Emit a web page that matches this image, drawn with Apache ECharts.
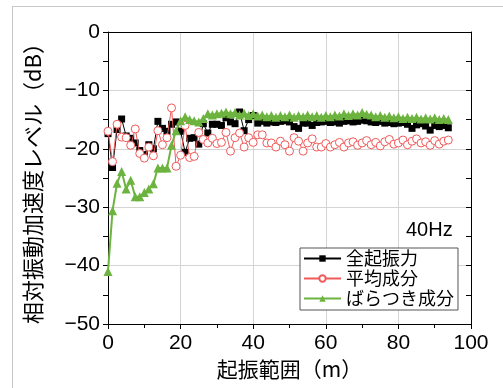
<!DOCTYPE html>
<html><head><meta charset="utf-8">
<script src="https://cdn.jsdelivr.net/npm/echarts@6/dist/echarts.min.js"></script>
<style>html,body{margin:0;padding:0;background:#fff}#c{width:503px;height:388px}</style>
</head><body><div id="c"></div>
<script>
const distances = [0,1.25,2.5,3.75,5,6.25,7.5,8.75,10,11.25,12.5,13.75,15,16.25,17.5,18.75,20,21.25,22.5,23.75,25,26.25,27.5,28.75,30,31.25,32.5,33.75,35,36.25,37.5,38.75,40,41.25,42.5,43.75,45,46.25,47.5,48.75,50,51.25,52.5,53.75,55,56.25,57.5,58.75,60,61.25,62.5,63.75,65,66.25,67.5,68.75,70,71.25,72.5,73.75,75,76.25,77.5,78.75,80,81.25,82.5,83.75,85,86.25,87.5,88.75,90,91.25,92.5,93.75];
const totalLevel = [-17.4,-23.2,-16.7,-14.9,-17.8,-18.2,-19.0,-20.3,-21.0,-19.3,-20.0,-15.3,-16.5,-17.0,-15.8,-15.4,-17.0,-20.6,-18.2,-18.1,-19.2,-15.7,-17.3,-15.8,-15.8,-16.0,-14.7,-15.4,-15.7,-13.7,-16.9,-15.0,-14.3,-15.6,-15.3,-15.6,-15.4,-15.5,-15.3,-15.2,-15.4,-16.2,-16.5,-15.6,-15.6,-16.0,-15.5,-15.4,-15.3,-15.5,-15.4,-15.6,-15.3,-15.2,-15.4,-15.3,-15.1,-15.2,-15.4,-15.5,-15.3,-15.6,-15.5,-15.7,-15.6,-15.5,-15.8,-16.5,-15.9,-15.7,-16.1,-16.8,-16.0,-16.2,-16.0,-16.4];
const meanLevel = [-17.0,-22.2,-15.8,-18.0,-18.1,-19.4,-16.6,-20.8,-21.6,-19.7,-21.2,-16.9,-19.3,-18.1,-13.0,-23.0,-21.1,-16.0,-21.5,-21.3,-17.2,-18.4,-19.0,-18.2,-19.1,-18.9,-17.2,-20.4,-18.1,-17.3,-19.7,-18.1,-18.9,-17.6,-17.6,-19.0,-19.0,-19.7,-18.7,-19.3,-20.4,-18.1,-18.7,-20.4,-19.0,-18.3,-19.7,-19.7,-19.1,-19.7,-19.3,-18.9,-19.7,-19.0,-18.8,-19.4,-19.0,-18.6,-19.3,-18.9,-19.5,-18.8,-18.4,-19.2,-19.0,-18.5,-19.3,-18.7,-18.3,-19.0,-18.8,-19.4,-18.6,-19.2,-18.7,-18.5];
const scatterLevel = [-41.0,-30.6,-25.9,-23.9,-26.9,-25.4,-28.2,-28.2,-27.5,-26.9,-26.0,-23.3,-23.3,-23.3,-19.4,-16.9,-15.2,-14.5,-15.0,-15.2,-15.4,-14.8,-14.0,-14.2,-14.0,-13.9,-13.7,-14.0,-13.8,-14.2,-13.9,-14.3,-14.0,-14.4,-14.2,-14.5,-14.3,-14.6,-14.3,-14.5,-14.2,-14.6,-14.3,-14.5,-14.2,-14.5,-14.3,-14.6,-14.3,-14.5,-14.2,-14.4,-14.0,-14.3,-14.0,-14.2,-13.8,-14.1,-14.2,-14.5,-14.3,-14.6,-14.4,-14.7,-14.5,-14.8,-14.6,-14.8,-14.6,-14.9,-14.7,-14.9,-14.7,-15.0,-14.8,-15.0];
const seriesNames = ['全起振力','平均成分','ばらつき成分'];
const xTitle = '起振範囲（m）';
const yTitle = '相対振動加速度レベル（dB）';
const freqLabel = '40Hz';

const pairs = ys => distances.map((d,i)=>[d, ys[i]]);
const chart = echarts.init(document.getElementById('c'), null, {renderer:'canvas'});
const numFont = 'Liberation Sans, Arial, sans-serif';
const cjkFont = '"Noto Sans CJK JP", sans-serif';
const minusFmt = v => String(v).replace('-', '\u2212');
chart.setOption({
  animation:false,
  backgroundColor:'#fff',
  grid:{left:108,right:32,top:32,bottom:64,containLabel:false,outerBoundsMode:'none'},
  graphic:[
    {type:'line',shape:{x1:12,y1:6.5,x2:503,y2:6.5},style:{stroke:'#c8c8c8',lineWidth:1},silent:true},
    {type:'line',shape:{x1:12.5,y1:6,x2:12.5,y2:388},style:{stroke:'#c8c8c8',lineWidth:1},silent:true},
    {type:'text',left:406,top:220,style:{text:freqLabel,font:'20px '+numFont,fill:'#000'},z:10}
  ],
  legend:{
    left:300,top:248,orient:'vertical',
    data:seriesNames,
    itemWidth:37,itemHeight:8,itemGap:1,
    padding:[1,4,2,3],
    borderColor:'#555',borderWidth:1,backgroundColor:'#fff',
    textStyle:{fontFamily:cjkFont,fontSize:18,color:'#000',lineHeight:19},
    z:10
  },
  xAxis:[{
    type:'value',min:0,max:100,interval:20,position:'bottom',
    name:xTitle,nameLocation:'middle',nameGap:33,
    nameTextStyle:{fontFamily:cjkFont,fontSize:21,color:'#000'},
    axisLine:{show:true,onZero:false,lineStyle:{color:'#000',width:1}},
    axisTick:{show:true,inside:false,length:5,lineStyle:{color:'#000'}},
    minorTick:{show:true,splitNumber:2,length:4,lineStyle:{color:'#000'}},
    axisLabel:{margin:9,fontFamily:numFont,fontSize:21,color:'#000'},
    splitLine:{show:true,lineStyle:{color:'#d4d4d4',width:1}}
  },{
    type:'value',min:0,max:100,interval:20,position:'top',
    axisLine:{show:true,onZero:false,lineStyle:{color:'#000',width:1}},
    axisTick:{show:false},axisLabel:{show:false},splitLine:{show:false}
  }],
  yAxis:[{
    type:'value',min:-50,max:0,interval:10,position:'left',
    name:yTitle,nameLocation:'middle',nameGap:64,nameRotate:90,
    nameTextStyle:{fontFamily:cjkFont,fontSize:22,color:'#000'},
    axisLine:{show:true,onZero:false,lineStyle:{color:'#000',width:1}},
    axisTick:{show:true,inside:false,length:5,lineStyle:{color:'#000'}},
    minorTick:{show:true,splitNumber:2,length:5,lineStyle:{color:'#000'}},
    axisLabel:{margin:8,fontFamily:numFont,fontSize:21,color:'#000',formatter:minusFmt},
    splitLine:{show:true,lineStyle:{color:'#d4d4d4',width:1}}
  },{
    type:'value',min:-50,max:0,interval:10,position:'right',
    axisLine:{show:true,onZero:false,lineStyle:{color:'#000',width:1}},
    axisTick:{show:true,inside:true,length:5,lineStyle:{color:'#000'}},
    minorTick:{show:true,splitNumber:2,length:5,lineStyle:{color:'#000'}},
    axisLabel:{show:false},splitLine:{show:false}
  }],
  series:[
    {name:seriesNames[0],type:'line',data:pairs(totalLevel),symbol:'rect',symbolSize:7,
     lineStyle:{color:'#000',width:1},itemStyle:{color:'#000'},z:3},
    {name:seriesNames[1],type:'line',data:pairs(meanLevel),symbol:'circle',symbolSize:8,
     lineStyle:{color:'#f05a5a',width:1},itemStyle:{color:'#fff',borderColor:'#f05a5a',borderWidth:1},z:4},
    {name:seriesNames[2],type:'line',data:pairs(scatterLevel),symbol:'triangle',symbolSize:9,
     lineStyle:{color:'#6cb33f',width:2},itemStyle:{color:'#6cb33f'},z:5}
  ]
});
</script></body></html>
